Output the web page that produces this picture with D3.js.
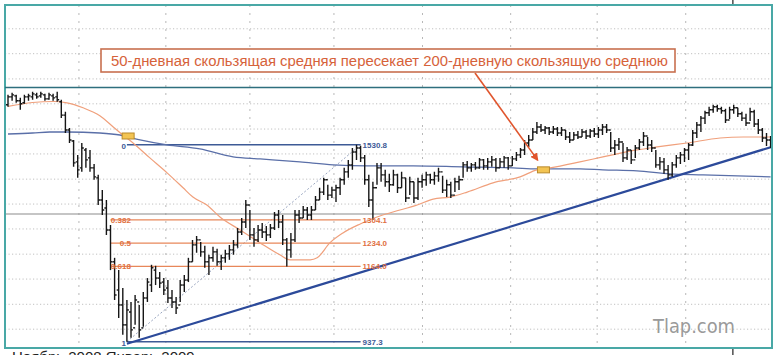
<!DOCTYPE html>
<html lang="ru">
<head>
<meta charset="UTF-8">
<title>Пересечение скользящих средних</title>
<script src="https://d3js.org/d3.v7.min.js"></script>
<style>
  body { margin: 0; padding: 0; background: #fff; }
  svg { display: block; }
</style>
</head>
<body>
<svg id="chart" width="783" height="355"></svg>
<script>
// daily bars (one entry per bar, left to right)
const opens = [1651,1675,1678,1663,1657,1675,1675,1681,1678,1681,1669,1678,1675,
  1660,1620,1575,1542,1479,1461,1515,1491,1461,1431,1364,1340,1274,1178,1093,1048,988,
  1027,979,1057,979,1069,1108,1153,1129,1117,1099,1069,1057,1048,1108,1123,
  1178,1229,1244,1208,1178,1190,1208,1178,1190,1202,1214,1229,1268,1298,1349,
  1259,1244,1274,1268,1259,1280,1319,1298,1244,1214,1244,1319,1310,1334,1319,
  1334,1364,1388,1425,1379,1394,1401,1425,1449,1470,1509,1521,1491,1425,1364,
  1401,1461,1440,1419,1410,1440,1401,1431,1370,1419,1370,1419,1425,1440,1425,
  1437,1449,1394,1410,1379,1419,1425,1470,1461,1470,1461,1485,1467,1479,1485,
  1461,1479,1491,1467,1488,1500,1515,1536,1545,1569,1584,1575,1581,1569,1578,
  1566,1575,1554,1545,1560,1554,1569,1557,1572,1563,1575,1584,1575,1521,1530,
  1539,1491,1515,1485,1521,1539,1557,1530,1521,1470,1479,1455,1440,1470,1491,
  1500,1515,1530,1566,1590,1611,1627,1636,1645,1639,1633,1605,1636,1642,1624,
  1611,1596,1630,1593,1575,1551,1545];
const highs = [1681,1687,1681,1672,1681,1684,1690,1687,1690,1684,1687,1684,1690,
  1666,1630,1581,1545,1500,1536,1521,1515,1473,1440,1394,1364,1289,1190,1153,1099,1063,
  1057,1078,1048,1087,1129,1169,1166,1147,1129,1123,1093,1072,1123,1138,1190,
  1244,1256,1238,1226,1199,1223,1217,1199,1214,1229,1244,1280,1310,1364,1334,
  1280,1289,1295,1286,1292,1328,1334,1319,1250,1265,1334,1334,1346,1343,1346,
  1376,1401,1431,1410,1404,1410,1431,1461,1485,1521,1530.8,1528,1500,1440,1419,
  1476,1476,1455,1443,1455,1443,1449,1431,1434,1419,1431,1440,1449,1443,1449,
  1461,1437,1425,1419,1431,1437,1479,1482,1476,1479,1491,1488,1491,1497,1491,
  1491,1497,1494,1497,1509,1521,1545,1560,1581,1599,1593,1587,1584,1587,1584,
  1584,1575,1569,1569,1572,1578,1575,1578,1581,1584,1593,1593,1569,1545,1551,
  1536,1524,1515,1530,1548,1569,1554,1545,1515,1494,1491,1470,1479,1500,1509,
  1521,1536,1575,1599,1617,1633,1645,1651,1651,1645,1639,1645,1651,1642,1630,
  1624,1642,1636,1608,1581,1566,1557];
const lows = [1645,1663,1657,1636,1654,1663,1666,1669,1672,1663,1666,1663,1660,
  1611,1566,1536,1464,1431,1449,1461,1449,1425,1349,1319,1259,1153,1063,1009,958,937.3,
  949,988,949,982,1057,1087,1108,1099,1078,1054,1039,1021,1057,1087,1117,
  1178,1205,1193,1160,1138,1178,1166,1153,1175,1184,1199,1220,1259,1280,1244,
  1223,1238,1250,1241,1250,1274,1280,1229,1164,1190,1238,1295,1310,1304,1304,
  1334,1364,1379,1364,1370,1358,1379,1410,1431,1455,1485,1479,1410,1343,1304.1,
  1410,1419,1404,1388,1407,1385,1401,1358,1379,1355,1364,1401,1407,1413,1410,
  1419,1385,1373,1370,1388,1394,1431,1449,1449,1455,1458,1455,1455,1464,1449,
  1461,1461,1455,1467,1482,1491,1500,1524,1545,1563,1569,1563,1560,1563,1557,
  1557,1545,1536,1545,1548,1554,1548,1551,1554,1551,1560,1566,1509,1500,1515,
  1479,1485,1473,1491,1515,1527,1515,1509,1461,1455,1443,1425,1434,1461,1473,
  1479,1485,1527,1551,1569,1593,1617,1627,1630,1624,1596,1608,1624,1614,1602,
  1587,1602,1584,1563,1539,1527,1521];
const closes = [1675,1681,1663,1654,1675,1678,1684,1675,1684,1669,1681,1672,1666,
  1620,1575,1545,1476,1455,1521,1485,1461,1434,1364,1334,1274,1178,1078,1048,988,1033,
  973,1063,973,1069,1117,1160,1129,1114,1093,1069,1057,1039,1108,1123,1178,
  1229,1244,1208,1178,1190,1208,1178,1190,1202,1214,1229,1268,1298,1349,1259,
  1244,1274,1268,1259,1280,1319,1298,1244,1214,1244,1319,1310,1334,1319,1334,
  1364,1388,1425,1379,1394,1401,1425,1449,1470,1509,1521,1491,1425,1364,1401,
  1461,1440,1419,1410,1440,1401,1431,1370,1419,1370,1419,1425,1440,1425,1437,
  1449,1394,1410,1379,1419,1425,1470,1461,1470,1461,1485,1467,1479,1485,1461,
  1479,1491,1467,1488,1500,1515,1536,1545,1569,1584,1575,1581,1569,1578,1566,
  1575,1554,1545,1560,1554,1569,1557,1572,1563,1575,1584,1575,1521,1530,1539,
  1491,1515,1485,1521,1539,1557,1530,1521,1470,1479,1455,1440,1470,1491,1500,
  1515,1530,1566,1590,1611,1627,1636,1645,1639,1633,1605,1636,1642,1624,1611,
  1596,1630,1593,1575,1551,1545,1533];

// moving averages as [bar index, value]
const ma50 = [[0,1646],[6,1658],[11,1661],[14.4,1657],[18.3,1642],[22.4,1618],[25.6,1585],
  [28,1560],[30.5,1536],[34.6,1491],[38.8,1446],[42.7,1401],[45.1,1373],[48.5,1349],
  [51.7,1313],[56.6,1274],[61.5,1235],[66.3,1199],[68.8,1184],[73.7,1184],[75.4,1190],
  [78.5,1235],[81.7,1265],[85.9,1292],[90,1313],[93.9,1328],[99.8,1349],[103.7,1367],
  [107.8,1373],[112,1388],[118.3,1416],[124.9,1434],[129,1455],[132.2,1461],[139.5,1479],
  [145.1,1494],[153.4,1515],[158.3,1524],[165.6,1536],[173.7,1551],[179.3,1554],[186,1554]];
const ma200 = [[0,1563],[6,1566],[10.2,1569],[14.4,1569],[22.4,1566],[27.3,1560],[32.2,1545],
  [38.8,1530],[46.8,1518],[54.9,1494],[61.5,1488],[71.2,1479],[79.3,1470],[87.6,1467],
  [98.8,1467],[111,1464],[123.2,1461],[129,1458],[139.5,1458],[145.1,1455],[153.4,1452],
  [161.5,1443],[169.5,1440],[186,1434]];

// crossings of the two averages
const crosses = [[29.3, 1557], [130.6, 1455]];

// support trend line
const trend = [[29, 931], [187, 1527]];

// fibonacci retracement
const fibHigh = 1530.8, fibLow = 937.3;
const fibRatios = [0.382, 0.5, 0.618];
const fibRatioLabels = ["0.382", "0.5", "0.618"];
const fibFrom = 29, fibTo = 86, fibRatioFrom = 25;

// grid: month separators (bar index) and price levels
const monthTicks = [17.3, 38.5, 59, 79.5, 101.1, 122.6, 143.7, 165.3];
const gridLevels = [1880, 1805, 1729, 1654, 1578, 1503, 1427, 1352, 1277, 1201, 1126, 1050, 975];
const panelLevel = 1703;   // top of price pane
const greyLevel = 1322;

const note = "50-дневная скользящая средняя пересекает 200-дневную скользящую среднюю";

const svg = d3.select("#chart");
const L = 5, T = 5, R = 772, B = 348;

const x = d3.scaleLinear().domain([0, 186]).range([8, 770.6]);
const y = d3.scaleLinear().domain([fibLow, fibHigh]).range([341.7, 144.7]);

svg.append("rect").attr("width", 783).attr("height", 355).attr("fill", "#fff");

// stray crosshair outside the frame
svg.append("line").attr("x1", x(176.8)).attr("x2", x(176.8)).attr("y1", 0).attr("y2", 355)
  .attr("stroke", "#222").attr("stroke-width", 1.2);

svg.append("rect").attr("x", L).attr("y", T).attr("width", R - L).attr("height", B - T)
  .attr("fill", "#fff");

// grid
svg.append("g").selectAll("line").data(monthTicks).join("line")
  .attr("x1", d => x(d)).attr("x2", d => x(d)).attr("y1", T).attr("y2", B)
  .attr("stroke", "#b8b8b8").attr("stroke-dasharray", "2,6");
svg.append("g").selectAll("line").data(gridLevels).join("line")
  .attr("x1", L).attr("x2", R).attr("y1", d => y(d)).attr("y2", d => y(d))
  .attr("stroke", "#c0c0c0").attr("stroke-dasharray", "1.2,2.3");

svg.append("line").attr("x1", L).attr("x2", R).attr("y1", y(greyLevel)).attr("y2", y(greyLevel))
  .attr("stroke", "#8c8c8c").attr("stroke-width", 1.2);

svg.append("defs").append("clipPath").attr("id", "pane")
  .append("rect").attr("x", L).attr("y", y(panelLevel)).attr("width", R - L).attr("height", B - y(panelLevel));
const pane = svg.append("g").attr("clip-path", "url(#pane)");

// fibonacci
const fibVal = r => fibHigh - r * (fibHigh - fibLow);
pane.append("line").attr("x1", x(fibFrom)).attr("x2", x(fibTo))
  .attr("y1", y(fibLow)).attr("y2", y(fibHigh))
  .attr("stroke", "#9aa6c0").attr("stroke-dasharray", "2,2");
pane.selectAll(".fibr").data(fibRatios).join("line").attr("class", "fibr")
  .attr("x1", x(fibRatioFrom)).attr("x2", x(fibTo))
  .attr("y1", d => y(fibVal(d))).attr("y2", d => y(fibVal(d)))
  .attr("stroke", "#e8875a").attr("stroke-width", 1.2);
pane.selectAll(".fibe").data([fibHigh, fibLow]).join("line").attr("class", "fibe")
  .attr("x1", x(fibFrom)).attr("x2", x(fibTo))
  .attr("y1", d => y(d)).attr("y2", d => y(d))
  .attr("stroke", "#3d5a96").attr("stroke-width", 1.6);

// moving averages
const maLine = d3.line().x(d => x(d[0])).y(d => y(d[1])).curve(d3.curveMonotoneX);
pane.append("path").datum(ma200).attr("d", maLine).attr("fill", "none")
  .attr("stroke", "#5a6fa8").attr("stroke-width", 1.3);
pane.append("path").datum(ma50).attr("d", maLine).attr("fill", "none")
  .attr("stroke", "#f0a07c").attr("stroke-width", 1.2);

// trend line
pane.append("line").attr("x1", x(trend[0][0])).attr("y1", y(trend[0][1]))
  .attr("x2", x(trend[1][0])).attr("y2", y(trend[1][1]))
  .attr("stroke", "#2c4a9a").attr("stroke-width", 2.2);

// OHLC bars
const bars = pane.append("g").attr("stroke", "#161616").attr("stroke-width", 1.4);
opens.forEach((o, i) => {
  const cx = x(i);
  bars.append("line").attr("x1", cx).attr("x2", cx).attr("y1", y(highs[i])).attr("y2", y(lows[i]));
  bars.append("line").attr("x1", cx - 2).attr("x2", cx).attr("y1", y(o)).attr("y2", y(o));
  bars.append("line").attr("x1", cx).attr("x2", cx + 2).attr("y1", y(closes[i])).attr("y2", y(closes[i]));
});

// fib labels
const lab = svg.append("g").attr("font-family", "Liberation Sans, Arial, sans-serif")
  .attr("font-size", 8).attr("font-weight", "bold");
lab.selectAll(".rl").data(fibRatios).join("text").attr("class", "rl")
  .attr("x", x(fibFrom) + 4).attr("y", d => y(fibVal(d)) + 3).attr("text-anchor", "end")
  .attr("fill", "#e0703f").text((d, i) => fibRatioLabels[i]);
lab.selectAll(".rv").data(fibRatios).join("text").attr("class", "rv")
  .attr("x", x(fibTo) + 2).attr("y", d => y(fibVal(d)) + 3)
  .attr("fill", "#e0703f").text(d => fibVal(d).toFixed(1));
lab.selectAll(".ev").data([fibHigh, fibLow]).join("text").attr("class", "ev")
  .attr("x", x(fibTo) + 2).attr("y", d => y(d) + 3)
  .attr("fill", "#3d5a96").text(d => d.toFixed(1));
lab.selectAll(".el").data([[fibHigh, "0"], [fibLow, "1"]]).join("text").attr("class", "el")
  .attr("x", x(fibFrom) - 1).attr("y", d => y(d[0]) + 4).attr("text-anchor", "end")
  .attr("fill", "#3d5a96").text(d => d[1]);

// crossing markers
svg.append("g").selectAll("rect").data(crosses).join("rect")
  .attr("x", d => x(d[0]) - 6).attr("y", d => y(d[1]) - 3).attr("width", 12).attr("height", 6)
  .attr("fill", "#f3c453").attr("stroke", "#b98a2c").attr("stroke-width", 1);

// frame and pane divider
svg.append("rect").attr("x", L).attr("y", T).attr("width", R - L).attr("height", B - T)
  .attr("fill", "none").attr("stroke", "#49a8a6").attr("stroke-width", 2);
svg.append("line").attr("x1", L).attr("x2", R).attr("y1", y(panelLevel)).attr("y2", y(panelLevel))
  .attr("stroke", "#2e6f7e").attr("stroke-width", 1.6);

// annotation
svg.append("defs").append("marker").attr("id", "head").attr("viewBox", "0 0 10 10")
  .attr("refX", 8).attr("refY", 5).attr("markerWidth", 5).attr("markerHeight", 5)
  .attr("orient", "auto").append("path").attr("d", "M0,0L10,5L0,10z").attr("fill", "#e0552d");
const tgt = crosses[1];
svg.append("line").attr("x1", 475).attr("y1", 73)
  .attr("x2", x(tgt[0]) - 6).attr("y2", y(tgt[1]) - 10)
  .attr("stroke", "#e0552d").attr("stroke-width", 1.6).attr("marker-end", "url(#head)");
svg.append("rect").attr("x", 101).attr("y", 49).attr("width", 574).attr("height", 23)
  .attr("fill", "#fff").attr("stroke", "#c8704f").attr("stroke-width", 1.6);
svg.append("text").attr("x", 111).attr("y", 66)
  .attr("textLength", 557).attr("lengthAdjust", "spacingAndGlyphs")
  .attr("font-family", "Liberation Sans, Arial, sans-serif").attr("font-size", 15.5)
  .attr("fill", "#d6623a").text(note);

// watermark
svg.append("text").attr("x", 653).attr("y", 333)
  .attr("textLength", 82).attr("lengthAdjust", "spacingAndGlyphs")
  .attr("font-family", "DejaVu Sans, sans-serif").attr("font-size", 20)
  .attr("fill", "#9a9a9a").text("Tlap.com");

// axis captions cut off by the bottom edge
svg.append("text").attr("x", 12).attr("y", 362)
  .attr("font-family", "Liberation Sans, Arial, sans-serif").attr("font-size", 15)
  .attr("fill", "#222").text("Ноябрь  2008    Январь  2009");
</script>
</body>
</html>
